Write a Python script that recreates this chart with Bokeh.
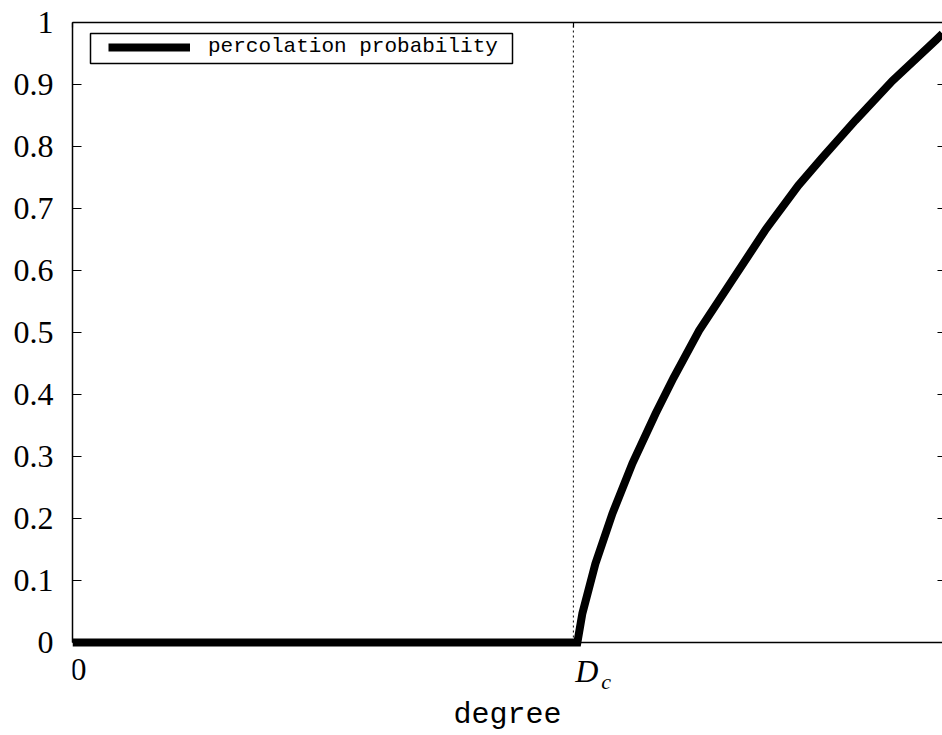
from bokeh.plotting import figure
from bokeh.models import (Range1d, FixedTicker, LinearAxis, Label, Legend,
                          LegendItem, Span, BoxAnnotation)
from bokeh.embed import file_html
from bokeh.resources import INLINE

# ---------------- data ----------------
D_c = 1.0
degree = [0.0, 1.008, 1.018, 1.044, 1.078, 1.118, 1.164, 1.200, 1.251,
          1.317, 1.383, 1.449, 1.497, 1.563, 1.637, 1.723, 1.737]
prob = [0.0, 0.0, 0.047, 0.127, 0.208, 0.289, 0.369, 0.427, 0.503,
        0.584, 0.665, 0.737, 0.782, 0.842, 0.906, 0.971, 0.982]

y_ticks = [0.0, 0.1, 0.2, 0.3, 0.4, 0.5, 0.6, 0.7, 0.8, 0.9, 1.0]
y_tick_labels = ["0", "0.1", "0.2", "0.3", "0.4", "0.5", "0.6", "0.7",
                 "0.8", "0.9", "1"]
x_ticks = [0.0, D_c]
x_tick_labels = ["0", "D"]
x_sub = "c"
x_label = "degree"
legend_label = "percolation probability"

x_min, x_max = 0.0, 1.737
y_min, y_max = 0.0, 1.0
y_low = -0.15          # blank room below the axis for tick labels / title

# ---------------- figure ----------------
p = figure(width=942, height=735, output_backend="svg", toolbar_location=None,
           x_range=Range1d(x_min, x_max), y_range=Range1d(y_low, y_max),
           x_axis_location=None, y_axis_location=None,
           min_border_left=72, min_border_right=0, min_border_top=22,
           min_border_bottom=0, outline_line_color=None,
           background_fill_color="white", border_fill_color="white")
p.grid.visible = False

serif = "Liberation Serif"
mono = "Liberation Mono"

yl = LinearAxis(ticker=FixedTicker(ticks=y_ticks),
                major_label_overrides=dict(zip(y_ticks, y_tick_labels)),
                bounds=(y_min, y_max), major_tick_in=9, major_tick_out=0,
                minor_tick_in=0, minor_tick_out=0, major_label_standoff=19,
                major_label_text_font=serif, major_label_text_font_size="32px",
                major_label_text_color="black", axis_line_width=1.5,
                axis_line_color="black", major_tick_line_width=1.2)
p.add_layout(yl, "left")

yr = LinearAxis(ticker=FixedTicker(ticks=y_ticks),
                major_label_overrides={t: "" for t in y_ticks},
                bounds=(y_min, y_max), major_tick_in=5, major_tick_out=0,
                minor_tick_in=0, minor_tick_out=0, major_label_standoff=0,
                major_label_text_font_size="0px", axis_line_color=None,
                major_tick_line_width=1.2)
p.add_layout(yr, "right")

xt = LinearAxis(ticker=FixedTicker(ticks=x_ticks),
                major_label_overrides={t: "" for t in x_ticks},
                major_tick_in=5, major_tick_out=0, minor_tick_in=0,
                minor_tick_out=0, major_label_standoff=0,
                major_label_text_font_size="0px", axis_line_width=1.5,
                axis_line_color="black", major_tick_line_width=1.2)
p.add_layout(xt, "above")

# bottom axis line at y = 0
p.add_layout(Span(location=y_min, dimension="width", line_color="black",
                  line_width=1.5))

# critical degree marker
p.segment(x0=[D_c], y0=[y_min], x1=[D_c], y1=[y_max], line_color="black",
          line_width=1, line_dash="2 3")

# curve
r = p.line(degree, prob, line_width=8, line_color="black", line_join="miter")

# legend
legend = Legend(items=[LegendItem(label=legend_label, renderers=[r])],
                location=(36, 677), padding=0, margin=0, spacing=0,
                glyph_width=82, glyph_height=20, label_standoff=18,
                label_height=20, label_text_font=mono,
                label_text_font_size="21px", label_text_color="black",
                border_line_color=None, background_fill_alpha=0)
p.add_layout(legend)
p.add_layout(BoxAnnotation(left=18, right=440, bottom=672, top=702,
                           left_units="screen", right_units="screen",
                           top_units="screen", bottom_units="screen",
                           fill_alpha=0, line_color="black", line_width=1.5,
                           line_alpha=1))

# x tick labels
p.add_layout(Label(x=x_ticks[0], y=y_min, x_offset=6, y_offset=-27,
                   text=x_tick_labels[0], text_align="center",
                   text_baseline="middle", text_font=serif,
                   text_font_size="32px", text_color="black"))
p.add_layout(Label(x=x_ticks[1], y=y_min, x_offset=2, y_offset=-28,
                   text=x_tick_labels[1], text_align="left",
                   text_baseline="middle", text_font=serif,
                   text_font_style="italic", text_font_size="32px",
                   text_color="black"))
p.add_layout(Label(x=x_ticks[1], y=y_min, x_offset=28, y_offset=-39,
                   text=x_sub, text_align="left", text_baseline="middle",
                   text_font=serif, text_font_style="italic",
                   text_font_size="22px", text_color="black"))
# axis title
p.add_layout(Label(x=(x_min + x_max) / 2, y=y_min, y_offset=-72,
                   text=x_label, text_align="center", text_baseline="middle",
                   text_font=mono, text_font_size="30px", text_color="black"))

open("out.html", "w").write(file_html(p, INLINE))
